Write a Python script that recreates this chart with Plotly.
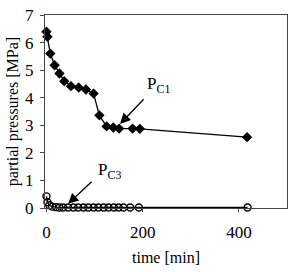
import plotly.graph_objects as go

# P_C1 data (filled diamonds)
t_c1 = [0, 2, 8, 17, 27, 37, 51, 67, 82, 98, 110, 125, 139, 151, 179, 194, 417]
p_c1 = [6.39, 6.21, 5.6, 5.18, 4.88, 4.6, 4.42, 4.37, 4.3, 4.15, 3.36, 2.96, 2.92, 2.88, 2.88, 2.87, 2.57]

# P_C3 data (open circles)
t_c3 = [0, 2, 6, 12, 20, 27, 35, 45, 56, 66, 77, 87, 98, 108, 119, 129, 140, 150, 160, 174, 192, 418]
p_c3 = [0.42, 0.21, 0.1, 0.05, 0.03, 0.02, 0.02, 0.02, 0.02, 0.02, 0.02, 0.02, 0.02, 0.02,
        0.02, 0.02, 0.02, 0.02, 0.02, 0.02, 0.02, 0.02]

x_ticks = [0, 200, 400]
y_ticks = [0, 1, 2, 3, 4, 5, 6, 7]

font_family = "Liberation Serif, Times New Roman, serif"

fig = go.Figure()
fig.add_trace(go.Scatter(
    x=t_c1, y=p_c1, mode="lines+markers",
    line=dict(color="black", width=1.3),
    marker=dict(symbol="diamond", size=8, color="black"),
    cliponaxis=False, showlegend=False))
fig.add_trace(go.Scatter(
    x=t_c3, y=p_c3, mode="lines+markers",
    line=dict(color="black", width=1.3),
    marker=dict(symbol="circle-open", size=7, color="black", line=dict(width=1.4)),
    cliponaxis=False, showlegend=False))

# arrows
fig.add_annotation(x=153, y=3.05, ax=205, ay=4.0, xref="x", yref="y", axref="x", ayref="y",
                   showarrow=True, arrowhead=2, arrowsize=1.6, arrowwidth=1.3, arrowcolor="black", text="")
fig.add_annotation(x=45, y=0.15, ax=97, ay=1.0, xref="x", yref="y", axref="x", ayref="y",
                   showarrow=True, arrowhead=2, arrowsize=1.6, arrowwidth=1.3, arrowcolor="black", text="")
# labels
fig.add_annotation(x=232, y=4.45, xref="x", yref="y", showarrow=False,
                   text="P<sub>C1</sub>", font=dict(family=font_family, size=17, color="black"))
fig.add_annotation(x=132, y=1.35, xref="x", yref="y", showarrow=False,
                   text="P<sub>C3</sub>", font=dict(family=font_family, size=17, color="black"))

fig.update_layout(
    width=295, height=272,
    margin=dict(l=45, r=8, t=15, b=64),
    paper_bgcolor="white", plot_bgcolor="white",
    font=dict(family=font_family, color="black"),
    xaxis=dict(range=[-3, 500], tickvals=x_ticks, ticks="outside", ticklen=3,
               showgrid=False, zeroline=False, showline=True, mirror=True,
               linecolor="#444", linewidth=1, tickcolor="#444",
               ticklabelstandoff=6, automargin=False,
               tickfont=dict(size=17, family=font_family),
               title=dict(text="time [min]", font=dict(size=16, family=font_family), standoff=10)),
    yaxis=dict(range=[0, 7], tickvals=y_ticks, ticks="outside", ticklen=4,
               showgrid=False, zeroline=False, showline=True, mirror=True,
               linecolor="#444", linewidth=1, tickcolor="#444",
               ticklabelstandoff=3, automargin=False,
               tickfont=dict(size=17, family=font_family),
               title=dict(text="partial pressures [MPa]", font=dict(size=16, family=font_family), standoff=2)),
)

fig.write_html("out.html")
